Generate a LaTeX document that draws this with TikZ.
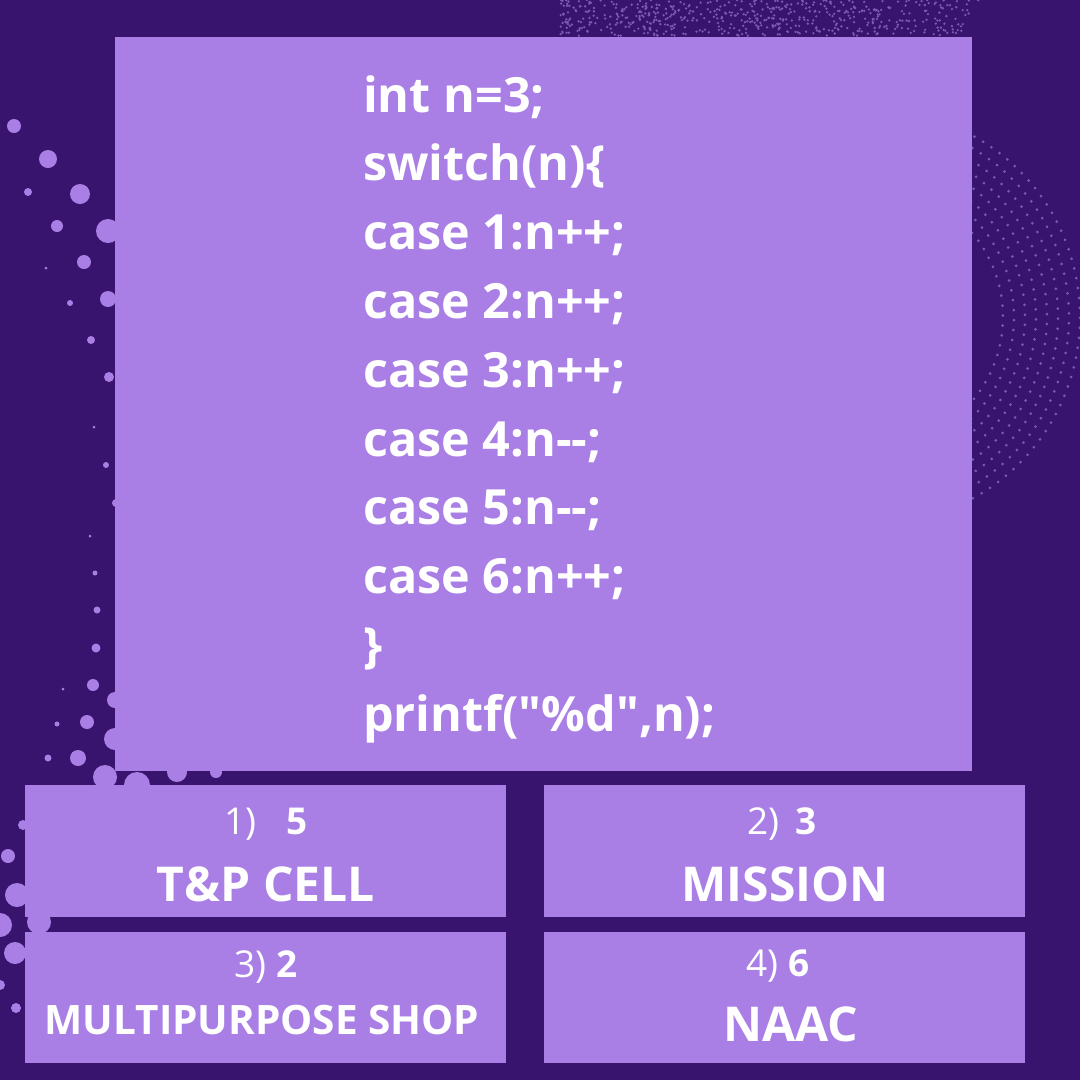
\documentclass[tikz,border=0pt]{standalone}
\usepackage{fontspec}
\setmainfont{Open Sans}[Ligatures=TeXOff]
\definecolor{bgpurple}{HTML}{39146E}
\definecolor{boxpurple}{HTML}{A97FE6}
\definecolor{dotpurple}{HTML}{7A58B4}
\tikzset{
  panel/.style={fill=boxpurple, draw=none, inner sep=0pt, outer sep=0pt, anchor=north west},
  bubble/.style={fill=boxpurple, draw=none},
  speck/.style={fill=dotpurple, draw=none},
  codeline/.style={anchor=base west, inner sep=0pt, text=white, font=\bfseries\fontsize{48.5}{48.5}\selectfont},
  numline/.style={anchor=base, inner sep=0pt, text=white, font=\fontsize{37}{37}\selectfont},
  nameline/.style={anchor=base, inner sep=0pt, text=white, font=\bfseries\fontsize{48}{48}\selectfont},
  smallname/.style={nameline, font=\bfseries\fontsize{40.5}{40.5}\selectfont}
}
\begin{document}
\begin{tikzpicture}[x=1pt,y=-1pt]
\fill[bgpurple] (0,0) rectangle (1080,1080);
\useasboundingbox (0,0) rectangle (1080,1080);
% top speckle band
\pgfmathsetseed{11}
\foreach \i in {1,...,560}{
  \pgfmathsetmacro\yy{36*rnd}
  \pgfmathsetmacro\xx{560+(420-0.6*\yy)*rnd}
  \fill[speck] (\xx,\yy) circle (1.3);
}
% right dotted sphere arcs
\foreach \r in {207,196,...,120}{
  \pgfmathsetmacro\stp{10/\r*57.3}
  \pgfmathsetmacro\nxt{-80+\stp}
  \foreach \a in {-80,\nxt,...,80}{
    \fill[speck] ({873+\r*cos(\a)},{317+\r*sin(\a)}) circle (1.5);
  }
}
% bubbles on the left
\foreach \px/\py/\pr in {14/126/7, 48/159/9, 28/192/4, 80/194/10, 57/226/6, 108/231/12,
  46/268/1.5, 84/262/7, 70/303/3, 108/299/8, 91/340/4, 109/377/5, 94/427/1.5, 106/465/3,
  116/503/4, 90/536/1.5, 95/573/2.5, 97/610/3.5, 96/648/4.5, 93/685/6, 63/689/1.5,
  115/700/8, 87/722/7, 57/724/2.5, 115/739/11, 78/758/8, 48/758/3.5, 105/777/12,
  137/785/13, 177/772/10, 216/772/6, 23/825/5, 8/856/7, 17/895/12, 0/925/12, 39/922/12,
  15/953/11, 0/985/5, 16/1008/5}{
  \fill[bubble] (\px,\py) circle (\pr);
}
% panels
\node[panel, minimum width=857pt, minimum height=734pt] (main) at (115,37) {};
\node[panel, minimum width=481pt, minimum height=132pt] (b1) at (25,785) {};
\node[panel, minimum width=481pt, minimum height=132pt] (b2) at (544,785) {};
\node[panel, minimum width=481pt, minimum height=131pt] (b3) at (25,932) {};
\node[panel, minimum width=481pt, minimum height=131pt] (b4) at (544,932) {};
% code
\node[codeline] (c1) at (363,112.0) {int n=3;};
\node[codeline] (c2) at (363,180.8) {switch(n)\{};
\node[codeline] (c3) at (363,249.6) {case 1:n++;};
\node[codeline] (c4) at (363,318.4) {case 2:n++;};
\node[codeline] (c5) at (363,387.2) {case 3:n++;};
\node[codeline] (c6) at (363,456.0) {case 4:n--;};
\node[codeline] (c7) at (363,524.8) {case 5:n--;};
\node[codeline] (c8) at (363,593.6) {case 6:n++;};
\node[codeline] (c9) at (363,662.4) {\}};
\node[codeline] (c10) at (363,731.2) {printf("\%d",n);};
% options
\node[numline] (n1) at (266,834) {1)\hspace{30pt}\textbf{5}};
\node[nameline] (t1) at (266,901) {T\&P CELL};
\node[numline] (n2) at (782,834) {2)\hspace{16pt}\textbf{3}};
\node[nameline] (t2) at (785,901) {MISSION};
\node[numline] (n3) at (266,977) {3) \textbf{2}};
\node[smallname] (t3) at (262,1034) {MULTIPURPOSE SHOP};
\node[numline] (n4) at (778,976) {4) \textbf{6}};
\node[nameline] (t4) at (791,1041) {NAAC};
\end{tikzpicture}
\end{document}
